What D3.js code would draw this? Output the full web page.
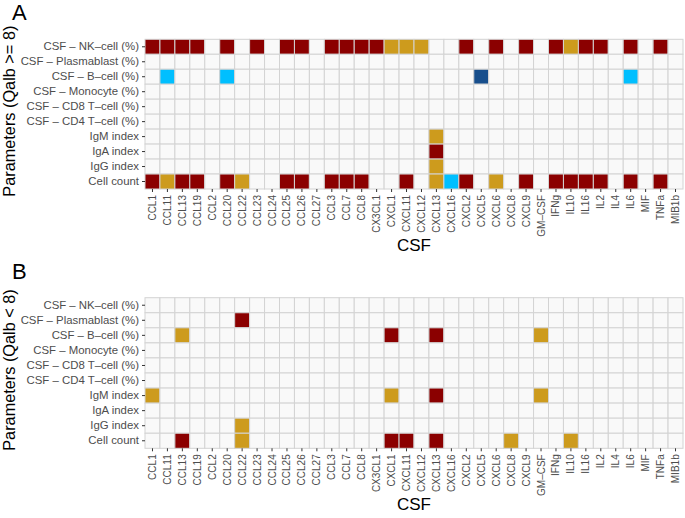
<!DOCTYPE html>
<html>
<head>
<meta charset="utf-8">
<script src="https://cdn.jsdelivr.net/npm/d3@7"></script>
<style>
  body { margin: 0; background: #ffffff; }
  svg { display: block; }
  text { font-family: "Liberation Sans", Arial, Helvetica, sans-serif; }
</style>
</head>
<body>
<svg id="chart" width="685" height="518"></svg>
<script>
// ---- data ----
const cytokines = ["CCL1","CCL11","CCL13","CCL19","CCL2","CCL20","CCL22","CCL23","CCL24","CCL25","CCL26","CCL27","CCL3","CCL7","CCL8","CX3CL1","CXCL1","CXCL11","CXCL12","CXCL13","CXCL16","CXCL2","CXCL5","CXCL6","CXCL8","CXCL9","GM–CSF","IFNg","IL10","IL16","IL2","IL4","IL6","MIF","TNFa","MIB1b"];
const parameters = ["CSF – NK–cell (%)","CSF – Plasmablast (%)","CSF – B–cell (%)","CSF – Monocyte (%)","CSF – CD8 T–cell (%)","CSF – CD4 T–cell (%)","IgM index","IgA index","IgG index","Cell count"];
// codes: 2 = strong positive (dark red), 1 = positive (gold), -1 = negative (light blue), -2 = strong negative (dark blue), 0 = none
const codes = [2, 1, -1, -2];
const codeColors = ["#8B0000", "#CD9B1D", "#00BFFF", "#174E8C"];

// Panel A (Qalb >= 8)
const A_nk        = [2,2,2,2,0,2,0,2,0,2,2,0,2,2,2,2,1,1,1,0,0,2,0,2,0,2,0,2,1,2,2,0,2,0,2,0];
const A_plasma    = [0,0,0,0,0,0,0,0,0,0,0,0,0,0,0,0,0,0,0,0,0,0,0,0,0,0,0,0,0,0,0,0,0,0,0,0];
const A_bcell     = [0,-1,0,0,0,-1,0,0,0,0,0,0,0,0,0,0,0,0,0,0,0,0,-2,0,0,0,0,0,0,0,0,0,-1,0,0,0];
const A_mono      = [0,0,0,0,0,0,0,0,0,0,0,0,0,0,0,0,0,0,0,0,0,0,0,0,0,0,0,0,0,0,0,0,0,0,0,0];
const A_cd8       = [0,0,0,0,0,0,0,0,0,0,0,0,0,0,0,0,0,0,0,0,0,0,0,0,0,0,0,0,0,0,0,0,0,0,0,0];
const A_cd4       = [0,0,0,0,0,0,0,0,0,0,0,0,0,0,0,0,0,0,0,0,0,0,0,0,0,0,0,0,0,0,0,0,0,0,0,0];
const A_igm       = [0,0,0,0,0,0,0,0,0,0,0,0,0,0,0,0,0,0,0,1,0,0,0,0,0,0,0,0,0,0,0,0,0,0,0,0];
const A_iga       = [0,0,0,0,0,0,0,0,0,0,0,0,0,0,0,0,0,0,0,2,0,0,0,0,0,0,0,0,0,0,0,0,0,0,0,0];
const A_igg       = [0,0,0,0,0,0,0,0,0,0,0,0,0,0,0,0,0,0,0,1,0,0,0,0,0,0,0,0,0,0,0,0,0,0,0,0];
const A_cellcount = [2,1,2,2,0,2,1,0,0,2,2,0,2,2,2,0,0,2,0,1,-1,2,0,1,0,2,0,2,2,2,2,0,2,0,2,0];

// Panel B (Qalb < 8)
const B_nk        = [0,0,0,0,0,0,0,0,0,0,0,0,0,0,0,0,0,0,0,0,0,0,0,0,0,0,0,0,0,0,0,0,0,0,0,0];
const B_plasma    = [0,0,0,0,0,0,2,0,0,0,0,0,0,0,0,0,0,0,0,0,0,0,0,0,0,0,0,0,0,0,0,0,0,0,0,0];
const B_bcell     = [0,0,1,0,0,0,0,0,0,0,0,0,0,0,0,0,2,0,0,2,0,0,0,0,0,0,1,0,0,0,0,0,0,0,0,0];
const B_mono      = [0,0,0,0,0,0,0,0,0,0,0,0,0,0,0,0,0,0,0,0,0,0,0,0,0,0,0,0,0,0,0,0,0,0,0,0];
const B_cd8       = [0,0,0,0,0,0,0,0,0,0,0,0,0,0,0,0,0,0,0,0,0,0,0,0,0,0,0,0,0,0,0,0,0,0,0,0];
const B_cd4       = [0,0,0,0,0,0,0,0,0,0,0,0,0,0,0,0,0,0,0,0,0,0,0,0,0,0,0,0,0,0,0,0,0,0,0,0];
const B_igm       = [1,0,0,0,0,0,0,0,0,0,0,0,0,0,0,0,1,0,0,2,0,0,0,0,0,0,1,0,0,0,0,0,0,0,0,0];
const B_iga       = [0,0,0,0,0,0,0,0,0,0,0,0,0,0,0,0,0,0,0,0,0,0,0,0,0,0,0,0,0,0,0,0,0,0,0,0];
const B_igg       = [0,0,0,0,0,0,1,0,0,0,0,0,0,0,0,0,0,0,0,0,0,0,0,0,0,0,0,0,0,0,0,0,0,0,0,0];
const B_cellcount = [0,0,2,0,0,0,1,0,0,0,0,0,0,0,0,0,2,2,0,2,0,0,0,0,1,0,0,0,1,0,0,0,0,0,0,0];

const panels = [
  { label: "A", title: "Parameters (Qalb >= 8)", top: 39.3, bottom: 189,
    rows: [A_nk, A_plasma, A_bcell, A_mono, A_cd8, A_cd4, A_igm, A_iga, A_igg, A_cellcount] },
  { label: "B", title: "Parameters (Qalb < 8)", top: 297.7, bottom: 448.3,
    rows: [B_nk, B_plasma, B_bcell, B_mono, B_cd8, B_cd4, B_igm, B_iga, B_igg, B_cellcount] }
];

// ---- drawing ----
const svg = d3.select("#chart");
const left = 145, right = 683;
const x = d3.scaleBand().domain(cytokines).range([left, right]).padding(0);
const color = d3.scaleOrdinal().domain(codes).range(codeColors).unknown("#F9F9F9");

panels.forEach(p => {
  const y = d3.scaleBand().domain(parameters).range([p.top, p.bottom]).padding(0);
  const g = svg.append("g");

  const cells = [];
  p.rows.forEach((vals, i) => vals.forEach((v, j) => cells.push({ row: parameters[i], col: cytokines[j], v })));

  g.selectAll("rect.cell").data(cells).join("rect")
    .attr("class", "cell")
    .attr("x", d => x(d.col))
    .attr("y", d => y(d.row))
    .attr("width", x.bandwidth())
    .attr("height", y.bandwidth())
    .attr("fill", d => d.v === 0 ? "#F9F9F9" : color(d.v))
    .attr("stroke", "#D3D3D3")
    .attr("stroke-width", 1);

  // y axis
  const yAxis = g.append("g").attr("transform", `translate(${left},0)`)
    .call(d3.axisLeft(y).tickSize(3).tickPadding(3));
  yAxis.select(".domain").remove();
  yAxis.selectAll(".tick line").attr("stroke", "#333333");
  yAxis.selectAll(".tick text").attr("fill", "#4D4D4D")
    .style("font-size", "11.4px")
    .style("font-family", "'Liberation Sans', Arial, sans-serif");

  // x axis
  const xAxis = g.append("g").attr("transform", `translate(0,${p.bottom})`)
    .call(d3.axisBottom(x).tickSize(3).tickPadding(3));
  xAxis.select(".domain").remove();
  xAxis.selectAll(".tick line").attr("stroke", "#333333");
  xAxis.selectAll(".tick text")
    .attr("fill", "#4D4D4D")
    .style("font-size", "10px")
    .style("font-family", "'Liberation Sans', Arial, sans-serif")
    .attr("transform", "rotate(-90)")
    .attr("text-anchor", "end")
    .attr("x", -6)
    .attr("y", 0)
    .attr("dy", "0.35em");

  // x title
  g.append("text")
    .attr("x", (left + right) / 2)
    .attr("y", p.bottom + 62)
    .attr("text-anchor", "middle")
    .style("font-size", "17px")
    .attr("fill", "#000")
    .text("CSF");

  // y title
  const cy = (p.top + p.bottom) / 2 - 3;
  g.append("text")
    .attr("transform", `translate(15,${cy}) rotate(-90)`)
    .attr("text-anchor", "middle")
    .style("font-size", "16.3px")
    .attr("fill", "#000")
    .text(p.title);

  // panel label
  g.append("text")
    .attr("x", 12)
    .attr("y", p.top - 19)
    .style("font-size", "22px")
    .attr("fill", "#000")
    .text(p.label);
});
</script>
</body>
</html>
